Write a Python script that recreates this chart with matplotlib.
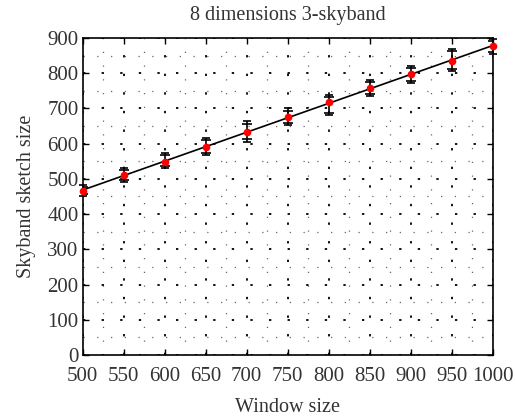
import matplotlib
matplotlib.use("Agg")
import matplotlib.pyplot as plt
import numpy as np
from matplotlib.ticker import MultipleLocator

plt.rcParams['font.family'] = ['Liberation Serif', 'DejaVu Serif']
plt.rcParams['text.color'] = '0.2'
plt.rcParams['xtick.labelcolor'] = '0.2'
plt.rcParams['ytick.labelcolor'] = '0.2'
plt.rcParams['axes.labelcolor'] = '0.2'

window = [500, 550, 600, 650, 700, 750, 800, 850, 900, 950, 1000]
sketch_mean = [466, 510, 549, 591, 634, 675, 717, 757, 797, 836, 876]
sketch_lo = [450, 490, 530, 568, 606, 652, 682, 736, 773, 807, 854]
sketch_hi = [482, 530, 573, 615, 663, 700, 739, 781, 821, 869, 898]

x = np.array(window)
y = np.array(sketch_mean)
lo = np.array(sketch_lo)
hi = np.array(sketch_hi)

fig = plt.figure(figsize=(5.15, 4.17), dpi=100)
ax = fig.add_axes([0.1606, 0.1487, 0.7961, 0.7602])

# grid
ax.xaxis.set_major_locator(MultipleLocator(50))
ax.xaxis.set_minor_locator(MultipleLocator(25))
ax.yaxis.set_major_locator(MultipleLocator(100))
ax.yaxis.set_minor_locator(MultipleLocator(50))
ax.grid(which='major', color='black', linestyle=(0, (1.3, 9)), linewidth=1.3)
ax.grid(which='minor', color='0.4', linestyle=(0, (1, 10)), linewidth=0.9)
ax.set_axisbelow(True)

# error bars (min/max with inner ticks)
ax.errorbar(x, y, yerr=[y - lo, hi - y], fmt='none', ecolor='black',
            elinewidth=1.2, capsize=3, capthick=1.2, clip_on=False, zorder=3)
ax.plot(x, lo + 6, '_', color='black', ms=7, mew=1.2, zorder=3)
ax.plot(x, hi - 6, '_', color='black', ms=7, mew=1.2, zorder=3)

# linear fit
coef = np.polyfit(x, y, 1)
ax.plot(x, np.polyval(coef, x), color='black', lw=1.2, zorder=4)
ax.plot(x, y, 'o', color='red', ms=4.5, mec='red', zorder=5, clip_on=False)

ax.set_xlim(500, 1000)
ax.set_ylim(0, 900)
ax.tick_params(which='major', direction='in', length=4, width=1,
               top=True, right=True, labelsize=15)
ax.tick_params(axis='x', pad=9)
ax.tick_params(axis='y', pad=3)
ax.tick_params(which='minor', length=0)
for s in ax.spines.values():
    s.set_linewidth(1.2)

ax.set_title('8 dimensions 3-skyband', fontsize=14.5, pad=13)
ax.set_xlabel('Window size', fontsize=14.5, labelpad=8)
ax.set_ylabel('Skyband sketch size', fontsize=14.5, labelpad=8)

fig.savefig('out.png', dpi=100)
